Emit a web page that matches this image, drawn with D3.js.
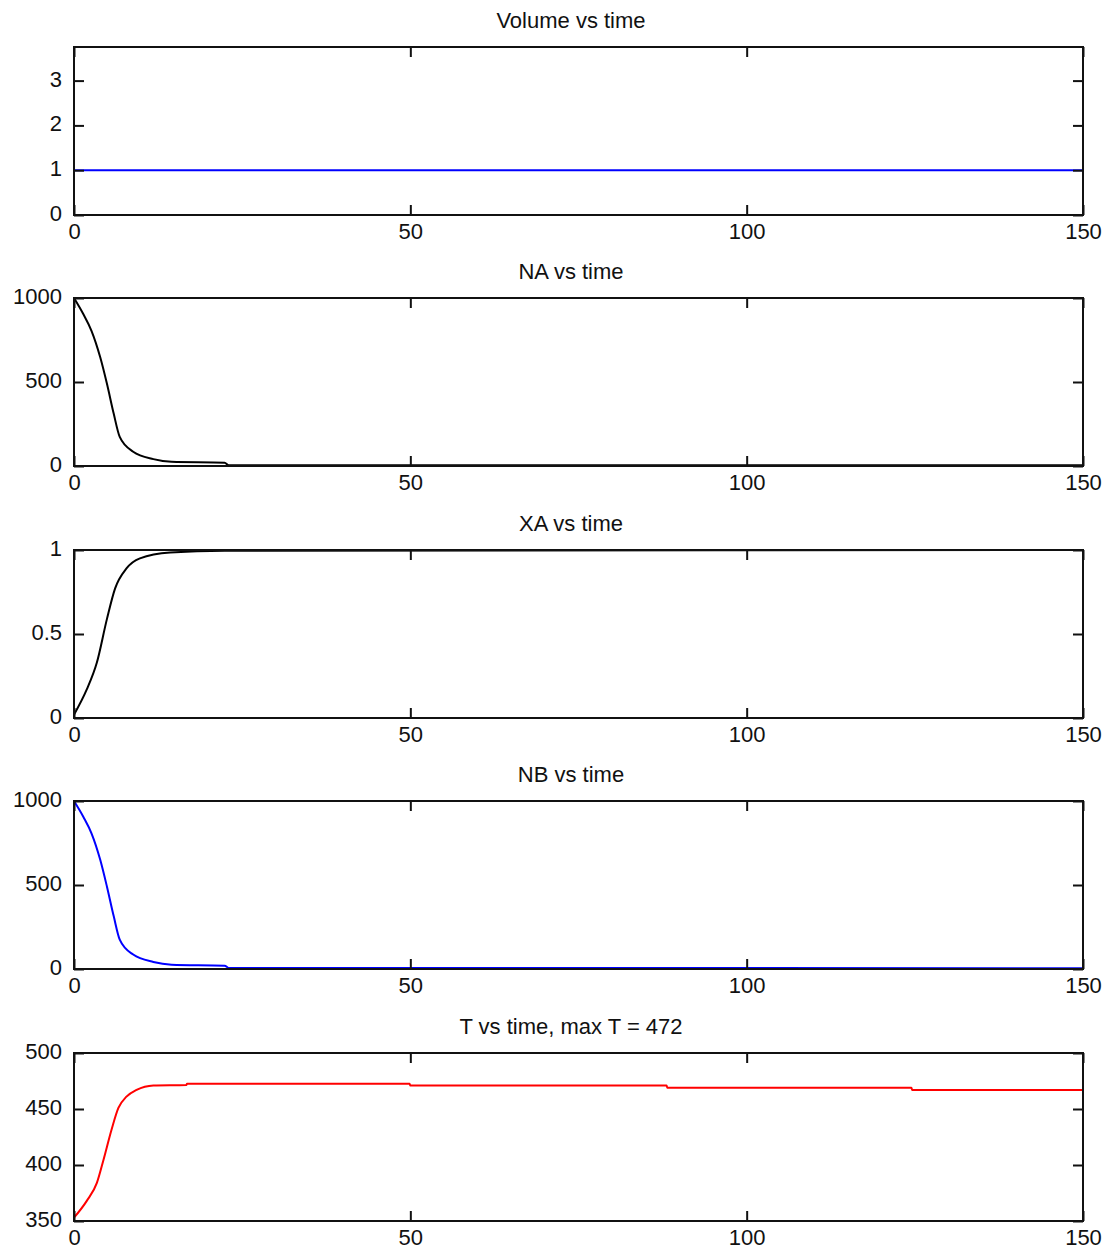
<!DOCTYPE html>
<html>
<head>
<meta charset="utf-8">
<script src="https://cdn.jsdelivr.net/npm/d3@7"></script>
<style>
    body { margin: 0; background: #fff; }
    svg text { font-family: "Liberation Sans", Arial, sans-serif; font-size: 22px; fill: #111; }
</style>
</head>
<body>
<svg id="chart" width="1106" height="1249"></svg>
<script>
// values
const volTime = [0, 150];
const volValues = [1, 1];

const naTime = [0, 1.4, 2.6, 3.9, 4.9, 5.9, 6.8, 8.8, 11.8, 14.5, 22.4, 23, 150];
const naValues = [1000, 903, 805, 647, 489, 312, 173, 85, 41, 25, 20, 5, 4];

const xaTime = [0, 1.9, 3.4, 4.9, 6.1, 7.8, 9.8, 14.3, 22.4, 150];
const xaValues = [0.02, 0.17, 0.33, 0.59, 0.77, 0.89, 0.95, 0.985, 0.995, 1];

const nbTime = [0, 1.4, 2.6, 3.9, 4.9, 5.9, 6.8, 8.8, 11.8, 14.5, 22.4, 23, 150];
const nbValues = [1000, 905, 808, 650, 490, 315, 175, 86, 42, 26, 20, 6, 5];

const tTime = [0, 1.9, 3.4, 4.4, 5.6, 6.6, 7.8, 9.3, 11.8, 16.7, 16.8, 49.9, 50, 88.1, 88.2, 124.5, 124.6, 150];
const tValues = [353, 368, 384, 405, 432, 451, 461, 467, 471, 471.5, 472.5, 472.5, 471, 471, 469, 469, 467, 467];

const xTicks = [0, 50, 100, 150];

const panels = [
    { title: "Volume vs time", time: volTime, values: volValues, domain: [0, 3.75], ticks: [0, 1, 2, 3], color: "#0000ff" },
    { title: "NA vs time", time: naTime, values: naValues, domain: [0, 1000], ticks: [0, 500, 1000], color: "#000000" },
    { title: "XA vs time", time: xaTime, values: xaValues, domain: [0, 1], ticks: [0, 0.5, 1], color: "#000000" },
    { title: "NB vs time", time: nbTime, values: nbValues, domain: [0, 1000], ticks: [0, 500, 1000], color: "#0000ff" },
    { title: "T vs time, max T = 472", time: tTime, values: tValues, domain: [350, 500], ticks: [350, 400, 450, 500], color: "#ff0000" }
];

const tops = [47, 298, 550, 801, 1053];
const plotH = 168;
const left = 74, right = 1083;

const svg = d3.select("#chart");

const x = d3.scaleLinear().domain([0, 150]).range([left, right]);

function styleAxis(sel) {
    sel.select(".domain").remove();
    sel.selectAll(".tick line").attr("stroke", "#111").attr("stroke-width", 2);
    sel.selectAll(".tick text")
        .attr("fill", "#111")
        .style("font-size", "22px")
        .style("font-family", "Liberation Sans, Arial, sans-serif");
}

panels.forEach((p, i) => {
    const top = tops[i];
    const bottom = top + plotH;
    const y = d3.scaleLinear().domain(p.domain).range([bottom, top]);
    const g = svg.append("g");

    // title
    g.append("text")
        .attr("x", 571)
        .attr("y", top - 19)
        .attr("text-anchor", "middle")
        .text(p.title);

    // data line
    const line = d3.line()
        .x((d, k) => x(p.time[k]))
        .y(d => y(d))
        .curve(d3.curveMonotoneX);

    g.append("path")
        .datum(p.values)
        .attr("fill", "none")
        .attr("stroke", p.color)
        .attr("stroke-width", 2)
        .attr("d", line);

    // axes, ticks point inward like matlab
    const fmt = d => String(d);
    g.append("g")
        .attr("transform", `translate(0,${bottom})`)
        .call(d3.axisBottom(x).tickValues(xTicks).tickSizeInner(-10).tickSizeOuter(0).tickPadding(8).tickFormat(fmt))
        .call(styleAxis);
    g.append("g")
        .attr("transform", `translate(0,${top})`)
        .call(d3.axisTop(x).tickValues(xTicks).tickSizeInner(-10).tickSizeOuter(0).tickFormat(""))
        .call(styleAxis);
    g.append("g")
        .attr("transform", `translate(${left},0)`)
        .call(d3.axisLeft(y).tickValues(p.ticks).tickSizeInner(-10).tickSizeOuter(0).tickPadding(12).tickFormat(fmt))
        .call(styleAxis)
        .selectAll(".tick text").attr("dy", "0.25em");
    g.append("g")
        .attr("transform", `translate(${right},0)`)
        .call(d3.axisRight(y).tickValues(p.ticks).tickSizeInner(-10).tickSizeOuter(0).tickFormat(""))
        .call(styleAxis);

    // frame
    g.append("rect")
        .attr("x", left)
        .attr("y", top)
        .attr("width", right - left)
        .attr("height", plotH)
        .attr("fill", "none")
        .attr("stroke", "#111")
        .attr("stroke-width", 2);
});
</script>
</body>
</html>
